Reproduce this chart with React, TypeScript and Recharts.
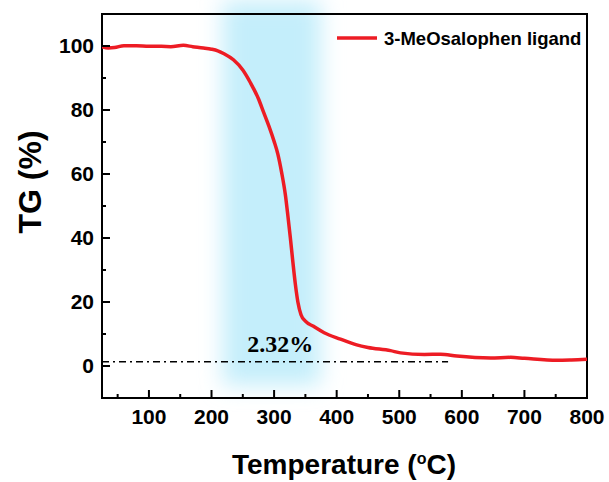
import { LineChart, Line, XAxis, YAxis, ReferenceArea, ReferenceLine, ReferenceDot } from "recharts"

// TGA curve
const temperature = [25, 35, 45, 60, 80, 100, 120, 135, 155, 170, 187, 200, 210, 220, 235, 250, 262, 275, 283, 292, 300, 306, 312, 318, 322, 326, 330, 334, 338, 343, 350, 363, 380, 406, 432, 450, 486, 502, 540, 566, 592, 646, 678, 700, 752, 775, 800]
const weight = [99.8, 99.4, 99.5, 100.1, 100.1, 99.9, 99.9, 99.8, 100.2, 99.8, 99.4, 99.0, 98.5, 97.6, 95.7, 92.5, 88.6, 83.5, 79.4, 74.8, 70.2, 66.2, 60.5, 53.5, 47.0, 40.0, 32.5, 25.5, 20.0, 16.0, 14.0, 12.4, 10.4, 8.4, 6.6, 5.8, 4.8, 4.1, 3.6, 3.7, 3.1, 2.5, 2.7, 2.4, 1.8, 1.9, 2.1]

const xTicks = [50, 100, 150, 200, 250, 300, 350, 400, 450, 500, 550, 600, 650, 700, 750, 800]
const yTicks = [0, 10, 20, 30, 40, 50, 60, 70, 80, 90, 100]

const residue = { label: "2.32%", level: 1.3, from: 25, to: 578, labelAt: 310 }
const band = { x1: 218, x2: 374, y1: -6, y2: 114 }
const seriesName = "3-MeOsalophen ligand"

const data = temperature.map((t, i) => ({ t, w: weight[i] }))

const SANS = "'Liberation Sans', Arial, sans-serif"
const RED = "#ed1c24"

if (typeof document !== "undefined") document.body.style.margin = "0"

const XTick = (props: any) => {
  const { x, y, payload } = props
  const major = payload.value % 100 === 0
  return (
    <g>
      <line x1={x} x2={x} y1={y} y2={y - (major ? 8 : 4)} stroke="#000" strokeWidth={2} />
      {major && (
        <text x={x} y={y + 11} dy="0.71em" textAnchor="middle" fontFamily={SANS} fontWeight="bold" fontSize={21} fill="#000">
          {payload.value}
        </text>
      )}
    </g>
  )
}

const YTick = (props: any) => {
  const { x, y, payload } = props
  const major = payload.value % 20 === 0
  return (
    <g>
      <line x1={x} x2={x + (major ? 8 : 4)} y1={y} y2={y} stroke="#000" strokeWidth={2} />
      {major && (
        <text x={x - 8} y={y} dy="0.355em" textAnchor="end" fontFamily={SANS} fontWeight="bold" fontSize={21} fill="#000">
          {payload.value}
        </text>
      )}
    </g>
  )
}

const BandShape = (p: any) => (
  <g>
    <defs>
      <filter id="bandBlur" x="-60%" y="-20%" width="220%" height="140%">
        <feGaussianBlur stdDeviation="11" />
      </filter>
    </defs>
    <rect x={p.x} y={p.y} width={p.width} height={p.height} fill="#c4eefb" filter="url(#bandBlur)" />
  </g>
)

const LegendBox = () => (
  <g>
    <line x1={337} x2={377} y1={38} y2={38} stroke={RED} strokeWidth={3.5} />
    <text x={384} y={45} fontFamily={SANS} fontWeight="bold" fontSize={18.5} fill="#000">
      {seriesName}
    </text>
  </g>
)

export default function App() {
  return (
    <LineChart width={609} height={482} data={data} margin={{ top: 14, right: 22, bottom: 0, left: 0 }}>
      <ReferenceArea x1={band.x1} x2={band.x2} y1={band.y1} y2={band.y2} ifOverflow="visible" shape={<BandShape />} />
      <XAxis
        dataKey="t"
        type="number"
        domain={[25, 800]}
        ticks={xTicks}
        interval={0}
        height={84}
        axisLine={false}
        tickLine={false}
        tickSize={0}
        tickMargin={0}
        tick={<XTick />}
        allowDataOverflow
        label={{
          content: () => (
            <text x={344} y={474} textAnchor="middle" fontFamily={SANS} fontWeight="bold" fontSize={28} fill="#000">
              Temperature (<tspan dy={-10} fontSize={16}>o</tspan><tspan dy={10}>C)</tspan>
            </text>
          ),
        }}
      />
      <YAxis
        type="number"
        domain={[-10, 110]}
        ticks={yTicks}
        interval={0}
        width={102}
        axisLine={false}
        tickLine={false}
        tickSize={0}
        tickMargin={0}
        tick={<YTick />}
        allowDataOverflow
        label={{
          content: () => (
            <text x={41} y={182} transform="rotate(-90 41 182)" textAnchor="middle" fontFamily={SANS} fontWeight="bold" fontSize={32} fill="#000">
              TG (%)
            </text>
          ),
        }}
      />
      <ReferenceLine
        segment={[{ x: residue.from, y: residue.level }, { x: residue.to, y: residue.level }]}
        stroke="#000"
        strokeWidth={1.5}
        strokeDasharray="7 4 2 4"
      />
      <ReferenceDot
        x={residue.labelAt}
        y={residue.level}
        r={1}
        fill="none"
        stroke="none"
        label={{ value: residue.label, position: "top", offset: 9, fill: "#000", fontFamily: "'Liberation Serif', 'Times New Roman', serif", fontWeight: "bold", fontSize: 24 }}
      />
      <Line type="monotone" dataKey="w" stroke={RED} strokeWidth={3.5} dot={false} isAnimationActive={false} />
      <ReferenceArea
        x1={25}
        x2={800}
        y1={-10}
        y2={110}
        fill="none"
        stroke="#000"
        strokeWidth={2}
        label={{ content: () => <LegendBox /> }}
      />
    </LineChart>
  )
}
